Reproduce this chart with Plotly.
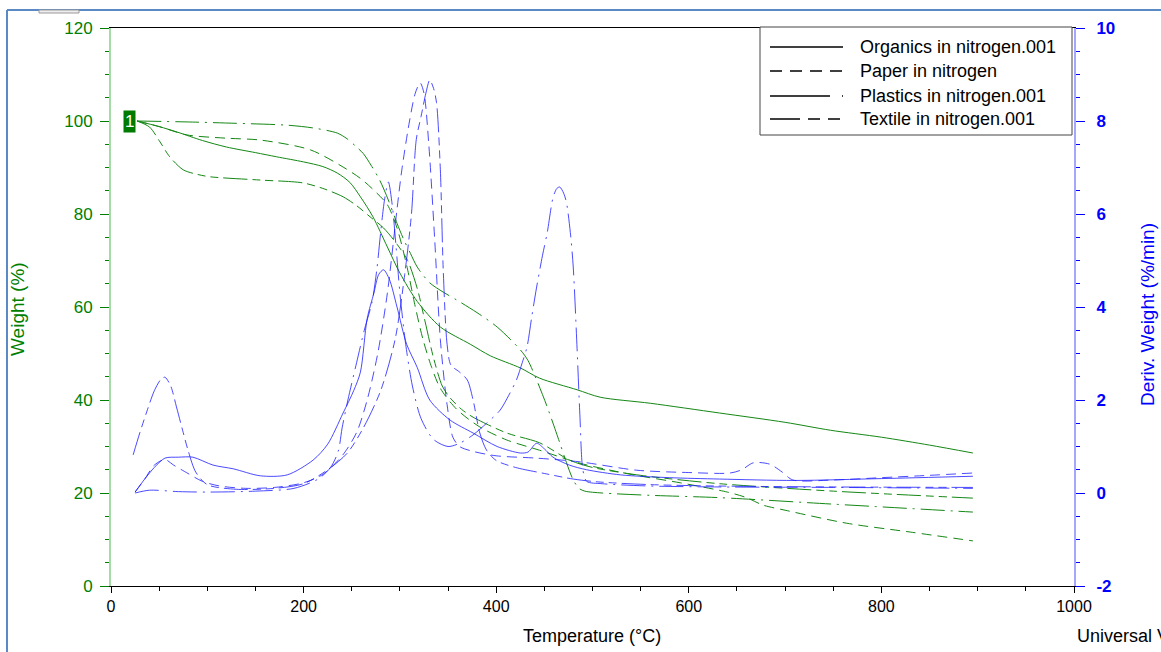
import plotly.graph_objects as go

# ---------------- data ----------------
# Weight (%) curves (left axis)
org_w_T = [27, 50, 69, 95, 120, 150, 172, 200, 220, 235, 248, 259, 272, 287, 300, 318, 342, 373, 394, 425, 445, 484, 508, 560, 632, 700, 747, 800, 850, 895]
org_w = [100, 98.8, 97.6, 95.8, 94.4, 93.2, 92.3, 91.2, 90.2, 88.8, 86.8, 83.7, 79.4, 72.9, 67.3, 61.2, 55.7, 52.0, 49.5, 46.9, 44.7, 42.2, 40.6, 39.3, 37.2, 35.2, 33.5, 32.0, 30.3, 28.6]

pap_w_T = [27, 50, 79, 120, 155, 207, 241, 260, 276, 287, 297, 307, 316, 324, 333, 342, 359, 383, 411, 445, 487, 540, 591, 640, 660, 677, 700, 764, 830, 895]
pap_w = [100, 98.8, 97.0, 96.3, 95.9, 93.8, 90.1, 87.5, 84.5, 82.0, 77.0, 69.0, 60.0, 53.0, 47.0, 42.5, 38.0, 34.2, 31.4, 29.2, 26.4, 24.0, 22.2, 20.2, 19.0, 17.4, 16.3, 13.5, 11.6, 9.7]

pla_w_T = [27, 79, 130, 183, 210, 235, 245, 255, 262, 270, 279, 288, 297, 304, 311, 318, 331, 345, 359, 380, 401, 425, 433, 442, 453, 466, 473, 480, 486, 492, 510, 560, 632, 750, 895]
pla_w = [100, 99.8, 99.5, 99.1, 98.5, 97.4, 96.2, 94.4, 93.0, 90.5, 87.3, 83.0, 78.0, 74.5, 71.5, 68.6, 65.2, 63.2, 61.5, 58.8, 55.7, 50.8, 48.5, 44.3, 38.5, 30.8, 26.5, 22.8, 21.0, 20.4, 20.0, 19.5, 19.0, 17.6, 15.9]

tex_w_T = [27, 40, 50, 61, 75, 90, 103, 155, 199, 220, 241, 255, 269, 283, 297, 308, 318, 326, 335, 344, 352, 364, 376, 411, 445, 477, 500, 550, 632, 750, 895]
tex_w = [100, 98.7, 95.8, 92.3, 89.5, 88.5, 88.0, 87.3, 86.7, 85.5, 83.7, 81.8, 79.4, 77.0, 73.5, 70.0, 64.0, 57.0, 49.0, 43.0, 40.5, 38.0, 36.3, 32.9, 30.8, 27.0, 25.5, 23.8, 22.0, 20.4, 18.9]

# Deriv. Weight (%/min) curves (right axis)
org_d_T = [25, 35, 45, 56, 70, 85, 106, 127, 155, 183, 210, 225, 241, 252, 259, 266, 273, 278, 283, 289, 297, 307, 318, 331, 352, 376, 401, 425, 433, 442, 450, 459, 476, 494, 529, 580, 632, 710, 800, 895]
org_d = [0.02, 0.3, 0.55, 0.75, 0.77, 0.77, 0.6, 0.52, 0.37, 0.39, 0.71, 1.05, 1.72, 2.2, 2.6, 3.75, 4.3, 4.7, 4.8, 4.6, 4.0, 3.2, 2.7, 2.0, 1.57, 1.29, 1.0, 0.86, 0.88, 1.07, 0.95, 0.77, 0.6, 0.5, 0.39, 0.33, 0.3, 0.27, 0.31, 0.36]

pap_d_T = [25, 35, 45, 56, 65, 80, 95, 113, 140, 170, 200, 220, 240, 255, 266, 277, 287, 297, 302, 310, 316, 321, 325, 330, 336, 342, 349, 355, 362, 375, 400, 442, 487, 546, 600, 643, 655, 667, 684, 697, 708, 750, 800, 850, 895]
pap_d = [0.02, 0.3, 0.6, 0.72, 0.6, 0.42, 0.25, 0.15, 0.1, 0.12, 0.22, 0.4, 0.8, 1.3, 2.0, 3.0, 4.3, 6.1, 6.95, 8.0, 8.6, 8.82, 8.6, 7.5, 5.5, 3.3, 1.9, 1.2, 1.0, 0.9, 0.8, 0.75, 0.67, 0.49, 0.44, 0.43, 0.5, 0.65, 0.62, 0.45, 0.28, 0.28, 0.33, 0.38, 0.43]

pla_d_T = [25, 40, 70, 100, 150, 190, 215, 228, 236, 240, 246, 255, 263, 271, 276, 280, 284, 288, 292, 296, 300, 306, 313, 322, 335, 350, 362, 376, 390, 404, 413, 421, 427, 432, 437, 442, 448, 453, 459, 463, 466, 470, 473, 477, 480, 484, 487, 490, 494, 510, 560, 632, 750, 895]
pla_d = [0.0, 0.06, 0.03, 0.02, 0.04, 0.1, 0.3, 0.55, 0.9, 1.4, 2.0, 2.8, 3.5, 4.1, 4.8, 5.6, 6.3, 6.69, 6.2, 5.3, 4.3, 3.2, 2.3, 1.6, 1.15, 1.0, 1.07, 1.25, 1.5, 1.78, 2.1, 2.43, 2.8, 3.14, 3.8, 4.43, 5.1, 5.6, 6.35, 6.55, 6.58, 6.45, 6.24, 5.6, 4.86, 3.1, 1.63, 0.5, 0.25, 0.2, 0.15, 0.13, 0.12, 0.1]

tex_d_T = [23, 30, 38, 45, 52, 56, 62, 68, 75, 80, 88, 100, 130, 170, 200, 225, 245, 262, 280, 295, 305, 312, 317, 322, 327, 331, 335, 338, 342, 345, 349, 353, 362, 370, 376, 383, 390, 400, 420, 450, 480, 505, 560, 632, 750, 895]
tex_d = [0.82, 1.3, 1.8, 2.2, 2.45, 2.49, 2.3, 1.85, 1.3, 0.92, 0.45, 0.18, 0.08, 0.1, 0.2, 0.5, 0.85, 1.4, 2.2, 3.3, 4.7, 6.0, 7.6, 8.1, 8.6, 8.88, 8.7, 8.4, 6.95, 4.8, 3.2, 2.75, 2.6, 2.43, 2.0, 1.29, 0.92, 0.7, 0.55, 0.42, 0.3, 0.24, 0.18, 0.15, 0.13, 0.12]

names = ["Organics in nitrogen.001", "Paper in nitrogen", "Plastics in nitrogen.001", "Textile in nitrogen.001"]

x_ticks = [0, 200, 400, 600, 800, 1000]
y2_ticks = [-2, 0, 2, 4, 6, 8, 10]
y2_labels = ["-2", "0", "2", "4", "6", "8", "10"]

# ---------------- styles ----------------
GREEN = "rgb(20,135,20)"
BLUE = "rgba(30,30,255,0.8)"
dashes = ["solid", "10px,6px", "24px,6px,2px,6px", "24px,5px,8px,5px,8px,5px"]

weights = [(org_w_T, org_w), (pap_w_T, pap_w), (pla_w_T, pla_w), (tex_w_T, tex_w)]
derivs = [(org_d_T, org_d), (pap_d_T, pap_d), (pla_d_T, pla_d), (tex_d_T, tex_d)]

fig = go.Figure()
for (t, w), d, n in zip(weights, dashes, names):
    fig.add_trace(go.Scatter(x=t, y=w, mode="lines", name=n, showlegend=False,
                             line=dict(color=GREEN, width=1, dash=d, shape="spline", smoothing=0.8)))
for (t, v), d, n in zip(derivs, dashes, names):
    fig.add_trace(go.Scatter(x=t, y=v, mode="lines", name=n, yaxis="y2", showlegend=False,
                             line=dict(color=BLUE, width=1, dash=d, shape="spline", smoothing=0.8)))

# ---------------- layout ----------------
L, R, T, B = 111, 87, 28, 66
W, H = 1161, 652
pw, ph = W - L - R, H - T - B


def px(x):
    return (x - L) / pw


def py(y):
    return (H - B - y) / ph


FONT = "Liberation Sans, Arial, sans-serif"

fig.update_layout(
    width=W, height=H,
    margin=dict(l=L, r=R, t=T, b=B),
    paper_bgcolor="white", plot_bgcolor="white",
    font=dict(family=FONT),
    showlegend=False,
    xaxis=dict(range=[0, 1000], tickvals=x_ticks, ticks="outside", ticklen=6,
               tickcolor="black", showline=True, linecolor="black", linewidth=1, mirror=True,
               showgrid=False, zeroline=False, tickfont=dict(size=16, color="black"),
               minor=dict(dtick=50, ticks="outside", ticklen=4, tickcolor="black")),
    yaxis=dict(range=[0, 120], dtick=20, ticks="outside", ticklen=9, tickcolor="green",
               showline=True, linecolor="rgba(0,150,0,0.35)", linewidth=2,
               showgrid=False, zeroline=False, tickfont=dict(size=17, color="green"),
               ticklabelstandoff=4,
               minor=dict(dtick=5, ticks="outside", ticklen=4, tickcolor="green")),
    yaxis2=dict(range=[-2, 10], tickvals=y2_ticks, ticktext=y2_labels, overlaying="y", side="right",
                ticks="outside", ticklen=9,
                tickcolor="blue", showline=True, linecolor="rgba(0,0,255,0.35)", linewidth=2,
                showgrid=False, zeroline=False, tickfont=dict(size=17, color="blue", weight="bold"),
                ticklabelstandoff=8,
                minor=dict(dtick=0.5, ticks="outside", ticklen=4, tickcolor="blue")),
)

ann = []
ann.append(dict(text="Weight (%)", x=px(18), y=py(309), xref="paper", yref="paper", textangle=-90,
                showarrow=False, font=dict(size=19, color="green"), xanchor="center", yanchor="middle"))
ann.append(dict(text="Deriv. Weight (%/min)", x=px(1147), y=py(315), xref="paper", yref="paper", textangle=-90,
                showarrow=False, font=dict(size=19, color="blue"), xanchor="center", yanchor="middle"))
ann.append(dict(text="Temperature (°C)", x=px(592), y=py(636), xref="paper", yref="paper",
                showarrow=False, font=dict(size=18, color="black"), xanchor="center", yanchor="middle"))
ann.append(dict(text="Universal V4.5A TA Instruments", x=px(1075), y=py(636), xref="paper", yref="paper",
                showarrow=False, font=dict(size=18, color="black"), xanchor="left", yanchor="middle"))
ann.append(dict(text="1", x=19.5, y=100, xref="x", yref="y", showarrow=False,
                bgcolor="#007a00", font=dict(size=17, color="white"), borderpad=1,
                xanchor="center", yanchor="middle"))

shapes = []
# legend box
shapes.append(dict(type="rect", xref="paper", yref="paper", x0=px(760), x1=px(1072), y0=py(135), y1=py(27),
                   line=dict(color="#444", width=1), fillcolor="white", layer="above"))
leg_y = [47, 71, 96, 119]
leg_dash = ["solid", "12px,8px", "60px,12px,2px,20px", "30px,8px,12px,8px,12px"]
for yy, dd, n in zip(leg_y, leg_dash, names):
    shapes.append(dict(type="line", xref="paper", yref="paper", x0=px(770), x1=px(843), y0=py(yy), y1=py(yy),
                       line=dict(color="black", width=1.3, dash=dd), layer="above"))
    ann.append(dict(text=n, x=px(858), y=py(yy), xref="paper", yref="paper", showarrow=False,
                    font=dict(size=18, color="black"), xanchor="left", yanchor="middle"))
# outer window border
shapes.append(dict(type="line", xref="paper", yref="paper", x0=px(7), x1=px(7), y0=py(10), y1=py(660),
                   line=dict(color="#5a8ac6", width=2)))
shapes.append(dict(type="line", xref="paper", yref="paper", x0=px(7), x1=px(1161), y0=py(10), y1=py(10),
                   line=dict(color="#5a8ac6", width=2)))
shapes.append(dict(type="rect", xref="paper", yref="paper", x0=px(39), x1=px(79), y0=py(13), y1=py(10),
                   line=dict(color="#999", width=1), fillcolor="#eee"))

fig.update_layout(annotations=ann, shapes=shapes)
fig.write_html("out.html")
